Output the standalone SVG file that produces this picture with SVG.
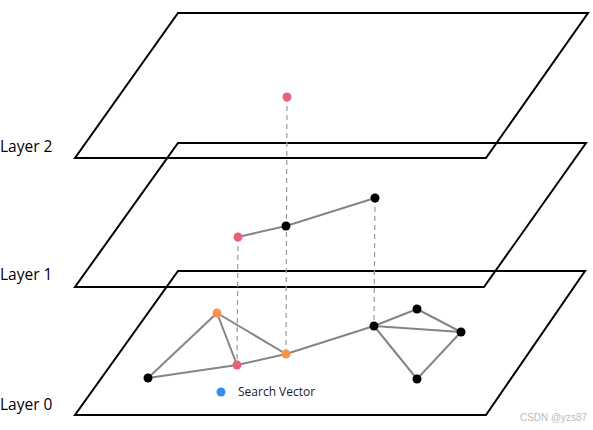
<svg xmlns="http://www.w3.org/2000/svg" width="593" height="430" viewBox="0 0 593 430">
<style>
.plane{fill:none;stroke:#000;stroke-width:2}
.edge{stroke:#858585;stroke-width:2;fill:none}
.dash{stroke:#999;stroke-width:1.2;stroke-dasharray:5,4;fill:none}
.lbl{font-family:"Open Sans","Noto Sans",sans-serif;font-size:15.5px;fill:#000}
.blk{fill:#000}.pnk{fill:#e8607a}.org{fill:#f7944a}.blu{fill:#3b8be9}
</style>
<rect width="593" height="430" fill="#fff"/>
<g id="layer2"><polygon class="plane" points="178,13 588,13 486,158 75,158"/><text class="lbl" x="0" y="152">Layer 2</text></g>
<g id="layer1"><polygon class="plane" points="178,143 586,143 484,287 75,287"/><text class="lbl" x="0" y="280">Layer 1</text></g>
<g id="layer0"><polygon class="plane" points="178,271 585,271 486,415 75,415"/><text class="lbl" x="0" y="410">Layer 0</text></g>
<g id="connectors">
<line class="dash" x1="287" y1="97" x2="286" y2="354"/>
<line class="dash" x1="238" y1="237" x2="237" y2="365"/>
<line class="dash" x1="375" y1="198" x2="374" y2="326"/>
<line class="edge" x1="238" y1="237" x2="286" y2="226"/>
<line class="edge" x1="286" y1="226" x2="375" y2="198"/>
<line class="edge" x1="148" y1="378" x2="217" y2="313"/>
<line class="edge" x1="217" y1="313" x2="237" y2="365"/>
<line class="edge" x1="217" y1="313" x2="286" y2="354"/>
<line class="edge" x1="148" y1="378" x2="237" y2="365"/>
<line class="edge" x1="237" y1="365" x2="286" y2="354"/>
<line class="edge" x1="286" y1="354" x2="374" y2="326"/>
<line class="edge" x1="374" y1="326" x2="417" y2="309"/>
<line class="edge" x1="374" y1="326" x2="461" y2="332"/>
<line class="edge" x1="417" y1="309" x2="461" y2="332"/>
<line class="edge" x1="374" y1="326" x2="417" y2="379"/>
<line class="edge" x1="417" y1="379" x2="461" y2="332"/>
</g>
<g id="n2a"><circle class="pnk" cx="287" cy="97" r="4.5"/></g>
<g id="n1a"><circle class="pnk" cx="238" cy="237" r="4.5"/></g>
<g id="n1b"><circle class="blk" cx="286" cy="226" r="4.5"/></g>
<g id="n1c"><circle class="blk" cx="375" cy="198" r="4.5"/></g>
<g id="n0a"><circle class="org" cx="217" cy="313" r="4.5"/></g>
<g id="n0b"><circle class="pnk" cx="237" cy="365" r="4.5"/></g>
<g id="n0c"><circle class="org" cx="286" cy="354" r="4.5"/></g>
<g id="n0d"><circle class="blk" cx="148" cy="378" r="4.5"/></g>
<g id="n0e"><circle class="blk" cx="374" cy="326" r="4.5"/></g>
<g id="n0f"><circle class="blk" cx="417" cy="309" r="4.5"/></g>
<g id="n0g"><circle class="blk" cx="461" cy="332" r="4.5"/></g>
<g id="n0h"><circle class="blk" cx="417" cy="379" r="4.5"/></g>
<g id="search"><circle class="blu" cx="221" cy="392" r="4.5"/><text x="238" y="396" style="font-family:'Open Sans','Noto Sans',sans-serif;font-size:12px;fill:#222">Search Vector</text></g>
<text x="520" y="421" textLength="67" lengthAdjust="spacingAndGlyphs" style="font-family:'Liberation Sans',Arial,sans-serif;font-size:11px;fill:#bbb">CSDN @yzs87</text>
</svg>
